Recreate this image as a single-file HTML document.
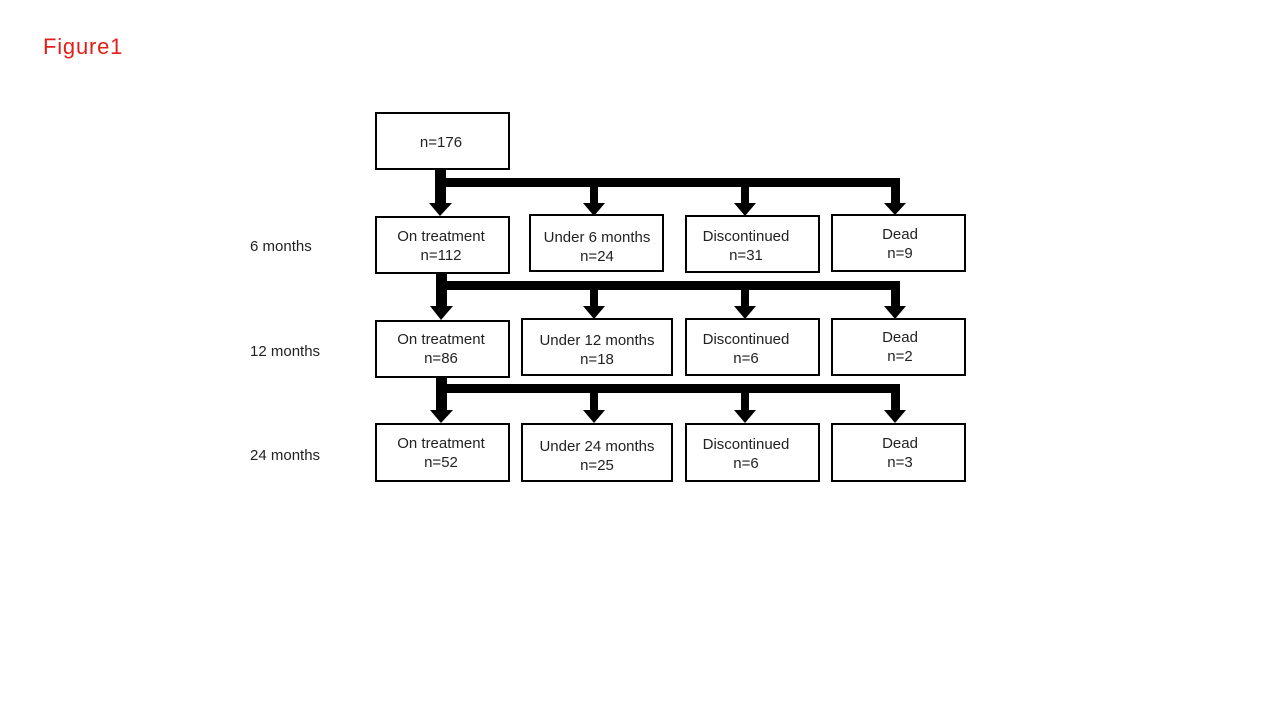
<!DOCTYPE html>
<html><head><meta charset="utf-8"><style>
body{margin:0;width:1280px;height:720px;background:#fff;overflow:hidden;font-family:"Liberation Sans","Noto Sans CJK JP",sans-serif}
</style></head><body>
<svg width="1280" height="720" xmlns="http://www.w3.org/2000/svg" font-family="Liberation Sans, Noto Sans CJK JP, sans-serif">
<text x="43" y="54" font-size="22" fill="#e0201b" letter-spacing="0.8">Figure1</text>
<g font-size="15" fill="#222">
<text x="250" y="251">6 months</text>
<text x="250" y="356">12 months</text>
<text x="250" y="460">24 months</text>
</g>
<g fill="#fff" stroke="#000" stroke-width="2">
<rect x="376" y="113" width="133" height="56"/>
<rect x="376" y="217" width="133" height="56"/>
<rect x="530" y="215" width="133" height="56"/>
<rect x="686" y="216" width="133" height="56"/>
<rect x="832" y="215" width="133" height="56"/>
<rect x="376" y="321" width="133" height="56"/>
<rect x="522" y="319" width="150" height="56"/>
<rect x="686" y="319" width="133" height="56"/>
<rect x="832" y="319" width="133" height="56"/>
<rect x="376" y="424" width="133" height="57"/>
<rect x="522" y="424" width="150" height="57"/>
<rect x="686" y="424" width="133" height="57"/>
<rect x="832" y="424" width="133" height="57"/>
</g>
<g fill="#000">
<rect x="435" y="169" width="11" height="34"/>
<rect x="446" y="178" width="454" height="9"/>
<polygon points="429,203 452,203 440,216"/>
<rect x="590" y="187" width="8" height="16"/><polygon points="583,203 605,203 594,216"/>
<rect x="741" y="187" width="8" height="16"/><polygon points="734,203 756,203 745,216"/>
<rect x="891" y="178" width="9" height="25"/><polygon points="884,203 906,203 895,215"/>
<rect x="436" y="273" width="11" height="33"/>
<rect x="447" y="281" width="453" height="9"/>
<polygon points="430,306 453,306 441,320"/>
<rect x="590" y="290" width="8" height="16"/><polygon points="583,306 605,306 594,319"/>
<rect x="741" y="290" width="8" height="16"/><polygon points="734,306 756,306 745,319"/>
<rect x="891" y="281" width="9" height="25"/><polygon points="884,306 906,306 895,319"/>
<rect x="436" y="377" width="11" height="33"/>
<rect x="447" y="384" width="453" height="9"/>
<polygon points="430,410 453,410 441,423"/>
<rect x="590" y="393" width="8" height="17"/><polygon points="583,410 605,410 594,423"/>
<rect x="741" y="393" width="8" height="17"/><polygon points="734,410 756,410 745,423"/>
<rect x="891" y="384" width="9" height="26"/><polygon points="884,410 906,410 895,423"/>
</g>
<g font-size="15" fill="#222" text-anchor="middle">
<text x="441" y="147">n=176</text>
<text x="441" y="241">On treatment</text><text x="441" y="260">n=112</text>
<text x="597" y="242">Under 6 months</text><text x="597" y="261">n=24</text>
<text x="746" y="241">Discontinued</text><text x="746" y="260">n=31</text>
<text x="900" y="239">Dead</text><text x="900" y="258">n=9</text>
<text x="441" y="344">On treatment</text><text x="441" y="363">n=86</text>
<text x="597" y="345">Under 12 months</text><text x="597" y="364">n=18</text>
<text x="746" y="344">Discontinued</text><text x="746" y="363">n=6</text>
<text x="900" y="342">Dead</text><text x="900" y="361">n=2</text>
<text x="441" y="448">On treatment</text><text x="441" y="467">n=52</text>
<text x="597" y="451">Under 24 months</text><text x="597" y="470">n=25</text>
<text x="746" y="449">Discontinued</text><text x="746" y="468">n=6</text>
<text x="900" y="448">Dead</text><text x="900" y="467">n=3</text>
</g>
</svg>
</body></html>
